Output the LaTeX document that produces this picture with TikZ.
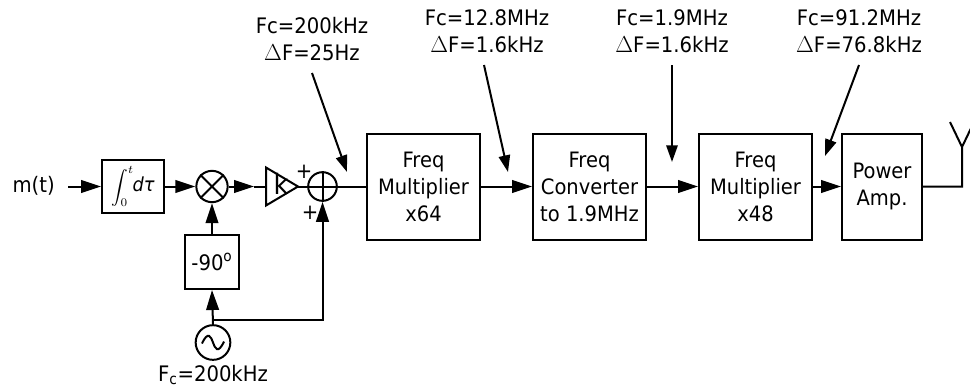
\documentclass[tikz,border=0pt]{standalone}
\usepackage{fontspec}
\setmainfont[FakeStretch=0.92]{DejaVu Sans}
\usetikzlibrary{arrows.meta,calc}
\tikzset{
  wire/.style={line width=1.5pt,draw=black},
  tipped/.style={wire,-{Triangle[length=15pt,width=9.5pt]},shorten >=0pt},
  longtip/.style={wire,-{Triangle[length=12.5pt,width=8.5pt]}},
  blockbox/.style={draw=black,line width=1.5pt,fill=white,minimum width=84.75pt,minimum height=79.5pt,inner sep=0pt,align=center,font=\fontsize{15.9}{20.2}\selectfont},
  smallbox/.style={draw=black,line width=1.5pt,fill=white,inner sep=0pt,align=center},
  junction/.style={circle,draw=black,line width=1.5pt,inner sep=0pt,fill=white},
  lbl/.style={inner sep=0pt,align=center,font=\fontsize{16}{20.5}\selectfont},
}
\begin{document}
\begin{tikzpicture}[x=0.75pt,y=-0.75pt]
\useasboundingbox (0,0) rectangle (970,390);
% blocks
\node[blockbox] (m1) at (423.5,186.5) {Freq\\Multiplier\\x64};
\node[blockbox] (cv) at (589.5,186.5) {Freq\\Converter\\to 1.9MHz};
\node[blockbox] (m2) at (755.5,186.5) {Freq\\Multiplier\\x48};
\node[blockbox,minimum width=60pt] (pa) at (882,186.5) {Power\\Amp.};
\node[smallbox,minimum width=46.5pt,minimum height=39.75pt] (int) at (133,186.5) {\raisebox{-0.5pt}{\scalebox{1.25}{\fontsize{10}{12}\selectfont$\displaystyle\int_{0}^{t}$}}\hspace{-1pt}{\fontsize{14.5}{15}\selectfont\textit{dτ}}};
\node[smallbox,minimum width=40.5pt,minimum height=40.5pt,font=\fontsize{16}{18}\selectfont] (ph) at (212,262) {-90\textsuperscript{o}};
\node[junction,minimum size=23.5pt] (mx) at (212,186.5) {};
\draw[wire] (mx.45) -- (mx.225) (mx.135) -- (mx.315);
\node[junction,minimum size=21.5pt] (ad) at (322.5,186.5) {};
\draw[wire] (ad.north) -- (ad.south) (ad.west) -- (ad.east);
\node[junction,minimum size=26pt] (os) at (213,342.5) {};
\draw[wire] ($(os.center)+(-11,1)$) .. controls ($(os.center)+(-5,-12)$) and ($(os.center)+(-2,-6)$) .. (os.center) .. controls ($(os.center)+(2,6)$) and ($(os.center)+(5,12)$) .. ($(os.center)+(11,-1)$);
% amplifier
\coordinate (ka) at (266,167.5);
\coordinate (kb) at (266,205.5);
\coordinate (kt) at (298,186.5);
\coordinate (kin) at (266,186.5);
\draw[wire,line join=miter] (ka) -- (kt) -- (kb) -- cycle;
\node[inner sep=0pt,font=\fontsize{21}{22}\selectfont] (k) at (281,184) {k};
% texts
\node[lbl,anchor=east] (mt) at (55,186) {m(t)};
\node[lbl] (fc) at (213,375) {F\textsubscript{c}=200kHz};
\node[lbl] (t1) at (312,39) {Fc=200kHz\\$\Delta$F=25Hz};
\node[lbl] (t2) at (487,31) {Fc=12.8MHz\\$\Delta$F=1.6kHz};
\node[lbl] (t3) at (672,31) {Fc=1.9MHz\\$\Delta$F=1.6kHz};
\node[lbl] (t4) at (859,31) {Fc=91.2MHz\\$\Delta$F=76.8kHz};
\node[inner sep=0pt,font=\fontsize{16}{16}\selectfont] (p1) at (304,172) {+};
\node[inner sep=0pt,font=\fontsize{16}{16}\selectfont] (p2) at (310,213) {+};
% connectors
\coordinate (min) at (68,186.5);
\draw[tipped] (min) -- (int.west);
\draw[tipped] (int.east) -- (mx.west);
\coordinate (mxa) at (254,186.5);
\draw[tipped] (mx.east) -- (mxa);
\draw[wire] (mxa) -- (kin);
\draw[wire] (kt) -- (ad.west);
\draw[wire] (ad.east) -- (m1.west);
\draw[tipped] (ph.north) -- (mx.south);
\coordinate (br) at (213,320);
\draw[tipped] (os.north) -- (ph.south);
\draw[tipped] (br) -| (ad.south);
\draw[tipped] (m1.east) -- (cv.west);
\draw[tipped] (cv.east) -- (m2.west);
\draw[tipped] (m2.east) -- (pa.west);
% antenna
\coordinate (anb) at (962,186.5);
\coordinate (ant) at (962,147);
\coordinate (anl) at (950,122);
\coordinate (anr) at (974,122);
\draw[wire] (pa.east) -- (anb) -- (ant) -- (anl) (ant) -- (anr);
% rate arrows
\coordinate (e1) at (347,172); \coordinate (s1) at (312,73);
\coordinate (e2) at (508,172); \coordinate (s2) at (484,65);
\coordinate (e3) at (672,162); \coordinate (s3) at (672,65);
\coordinate (e4) at (825,156); \coordinate (s4) at (859,65);
\draw[longtip] (s1) -- (e1);
\draw[longtip] (s2) -- (e2);
\draw[longtip] (s3) -- (e3);
\draw[longtip] (s4) -- (e4);
\end{tikzpicture}
\end{document}
